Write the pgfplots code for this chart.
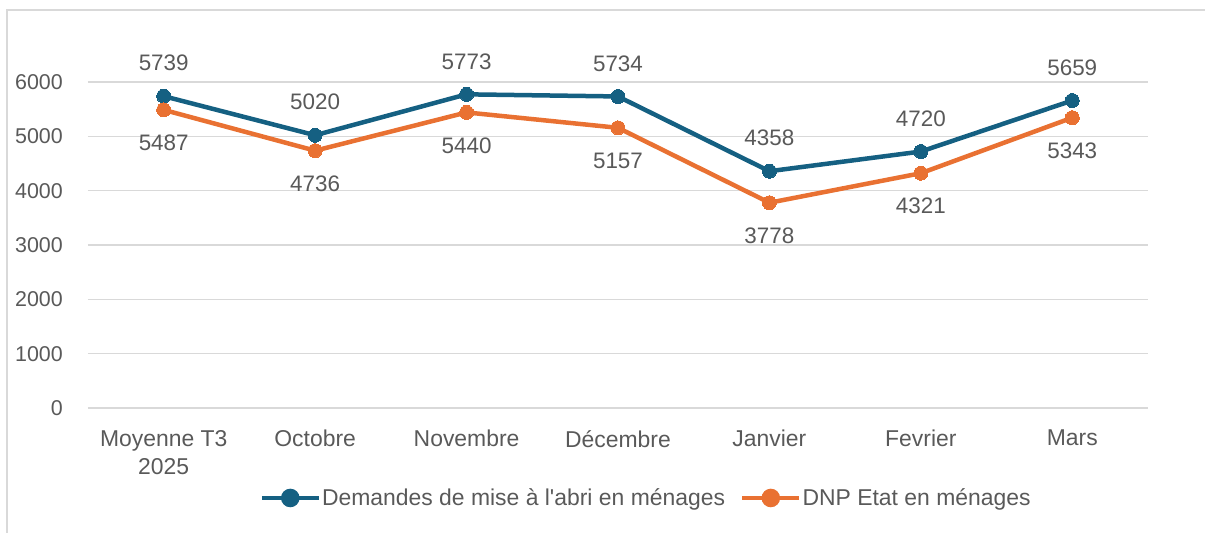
\documentclass[border=0pt]{standalone}
\usepackage{pgfplots}
\pgfplotsset{compat=1.18}
\usepackage{fontspec}
\setmainfont{Liberation Sans}
\definecolor{cblue}{HTML}{156082}
\definecolor{corange}{HTML}{E97132}
\definecolor{gridc}{HTML}{D9D9D9}
\definecolor{txt}{HTML}{595959}
\begin{document}
\begin{tikzpicture}
\path[use as bounding box] (-88bp,-125bp) rectangle (1117bp,408bp);
\draw[gridc, line width=1.5bp] (-81bp,-125bp) -- (-81bp,398bp) -- (1117bp,398bp);
\begin{axis}[at={(0,0)}, anchor=south west, scale only axis,
  width=1060bp, height=326bp,
  xmin=-0.5, xmax=6.5, ymin=0, ymax=6000,
  ytick={0,1000,...,6000}, xtick={0,...,6},
  xticklabels={{Moyenne T3\\2025},Octobre,Novembre,Décembre,Janvier,Fevrier,Mars},
  /pgf/number format/assume math mode=true,
  /pgf/number format/1000 sep={},
  xticklabel style={align=center, text=txt, anchor=north, inner sep=0pt, yshift=-22bp,
    font=\fontsize{23}{28}\selectfont},
  yticklabel style={anchor=east, text=txt, inner sep=0pt, xshift=-25bp,
    font=\fontsize{21.5}{26}\selectfont},
  axis line style={draw=none}, tick style={draw=none}, major tick length=0pt,
  ymajorgrids, grid style={gridc, line width=1.5bp},
  clip=false,
  legend style={at={(0.526,-0.276)}, anchor=center, draw=none, fill=none,
    legend columns=2, text=txt, font=\fontsize{23}{26}\selectfont,
    /tikz/every even column/.append style={column sep=14bp},
    nodes={inner sep=1bp}},
  legend image code/.code={\draw[#1, line width=4.5bp] (0bp,0bp) -- (57bp,0bp);
    \fill[#1] (28.5bp,0bp) circle (7bp);},
  nodes near coords={\pgfmathprintnumber[fixed,precision=0,1000 sep={}]{\pgfplotspointmeta}},
  every node near coord/.append style={text=txt, font=\fontsize{22.5}{26}\selectfont, anchor=center},
]
\addplot[cblue, line width=4.5bp, mark=*, mark size=7bp, mark options={solid, fill=cblue, draw=cblue, line width=0pt},
  every node near coord/.append style={yshift=33bp}]
  coordinates {(0,5739) (1,5020) (2,5773) (3,5734) (4,4358) (5,4720) (6,5659)};
\addlegendentry{Demandes de mise à l\textquotesingle abri en ménages}
\addplot[corange, line width=4.5bp, mark=*, mark size=7bp, mark options={solid, fill=corange, draw=corange, line width=0pt},
  every node near coord/.append style={yshift=-33bp}]
  coordinates {(0,5487) (1,4736) (2,5440) (3,5157) (4,3778) (5,4321) (6,5343)};
\addlegendentry{DNP Etat en ménages}
\end{axis}
\end{tikzpicture}
\end{document}
